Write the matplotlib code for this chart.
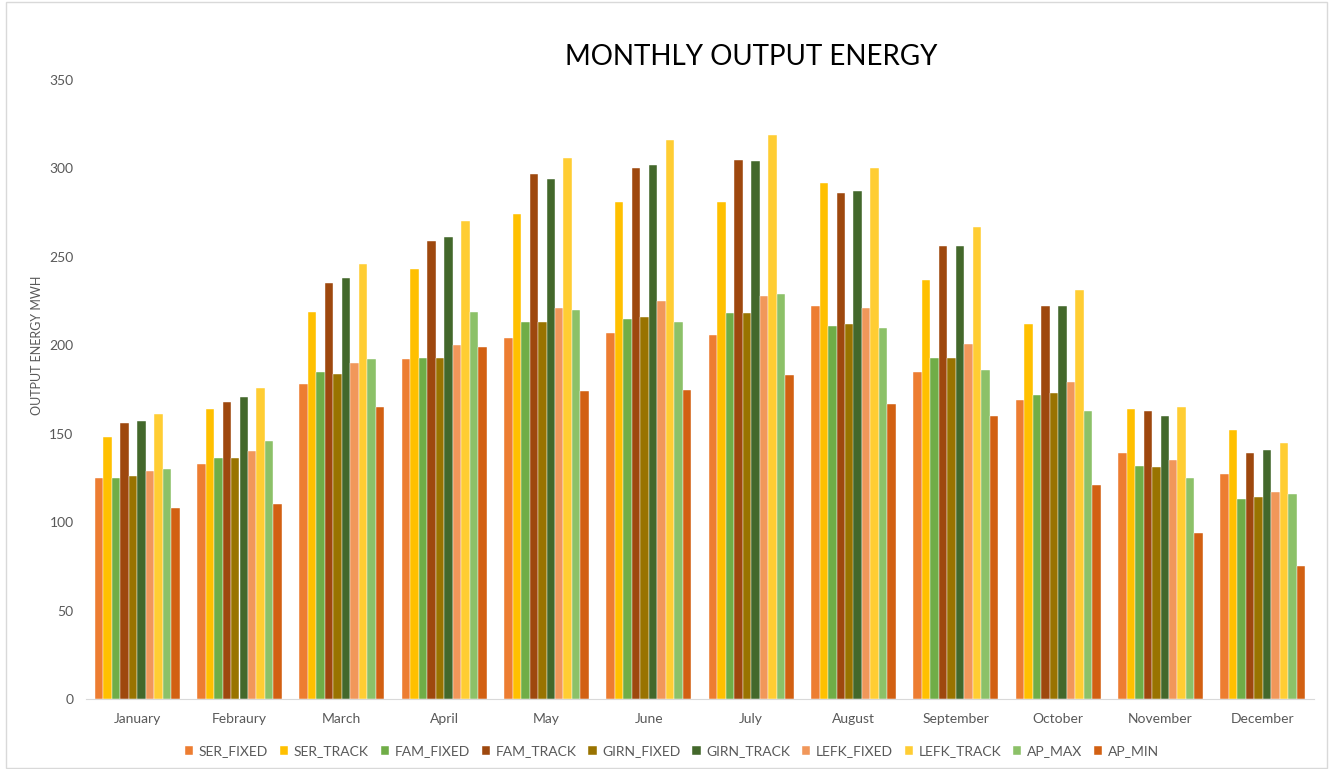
import matplotlib.pyplot as plt
import numpy as np

months = ["January", "Febraury", "March", "April", "May", "June", "July",
          "August", "September", "October", "November", "December"]

series_names = ["SER_FIXED", "SER_TRACK", "FAM_FIXED", "FAM_TRACK", "GIRN_FIXED",
                "GIRN_TRACK", "LEFK_FIXED", "LEFK_TRACK", "AP_MAX", "AP_MIN"]

ser_fixed = [125, 133, 178, 192, 204, 207, 206, 222, 185, 169, 139, 127]
ser_track = [148, 164, 219, 243, 274, 281, 281, 292, 237, 212, 164, 152]
fam_fixed = [125, 136, 185, 193, 213, 215, 218, 211, 193, 172, 132, 113]
fam_track = [156, 168, 235, 259, 297, 300, 305, 286, 256, 222, 163, 139]
girn_fixed = [126, 136, 184, 193, 213, 216, 218, 212, 193, 173, 131, 114]
girn_track = [157, 171, 238, 261, 294, 302, 304, 287, 256, 222, 160, 141]
lefk_fixed = [129, 140, 190, 200, 221, 225, 228, 221, 201, 179, 135, 117]
lefk_track = [161, 176, 246, 270, 306, 316, 319, 300, 267, 231, 165, 145]
ap_max = [130, 146, 192, 219, 220, 213, 229, 210, 186, 163, 125, 116]
ap_min = [108, 110, 165, 199, 174, 175, 183, 167, 160, 121, 94, 75]

values = [ser_fixed, ser_track, fam_fixed, fam_track, girn_fixed,
          girn_track, lefk_fixed, lefk_track, ap_max, ap_min]

colors = ["#ED7D31", "#FFC000", "#70AD47", "#9E480E", "#997300",
          "#43682B", "#F1975A", "#FFCD33", "#8CC168", "#D26012"]

plt.rcParams['font.family'] = ['Lato', 'DejaVu Sans']

fig = plt.figure(figsize=(13.35, 7.69), dpi=100)
ax = fig.add_axes([86 / 1335, 70 / 769, 1228 / 1335, 619 / 769])

x = np.arange(len(months))
n = len(series_names)
bw = 0.083
for i in range(n):
    offs = (i - (n - 1) / 2) * bw
    ax.bar(x + offs, values[i], width=bw, color=colors[i], label=series_names[i],
           edgecolor="white", linewidth=0.3)

ax.set_xlim(-0.5, len(months) - 0.5)
ax.set_ylim(0, 350)
ax.set_yticks(range(0, 351, 50))
ax.set_xticks(x)
ax.set_xticklabels(months)
ax.tick_params(axis="both", length=0, labelsize=10, colors="#595959")
ax.tick_params(axis="x", pad=10)
ax.tick_params(axis="y", pad=9)
for side in ["top", "right", "left"]:
    ax.spines[side].set_visible(False)
ax.spines["bottom"].set_color("#D9D9D9")

fig.text(37 / 1335, (769 - 345) / 769, "OUTPUT ENERGY MWH", rotation=90,
         ha="center", va="center", fontsize=9, color="#595959")
fig.text(751 / 1335, (769 - 57) / 769, "MONTHLY OUTPUT ENERGY", ha="center",
         va="center", fontsize=20, color="#000000")

leg = fig.legend(loc="center", bbox_to_anchor=(672 / 1335, 18 / 769), ncol=10,
                 frameon=False, fontsize=10, handlelength=0.6, handleheight=0.6,
                 handletextpad=0.4, columnspacing=0.85)
for t in leg.get_texts():
    t.set_color("#595959")

fig.patches.append(plt.Rectangle((6 / 1335, 0.001), 1327 / 1335 - 6 / 1335, 0.997,
                                 transform=fig.transFigure, fill=False,
                                 edgecolor="#D9D9D9", linewidth=1))

fig.savefig("out.png", dpi=100)
